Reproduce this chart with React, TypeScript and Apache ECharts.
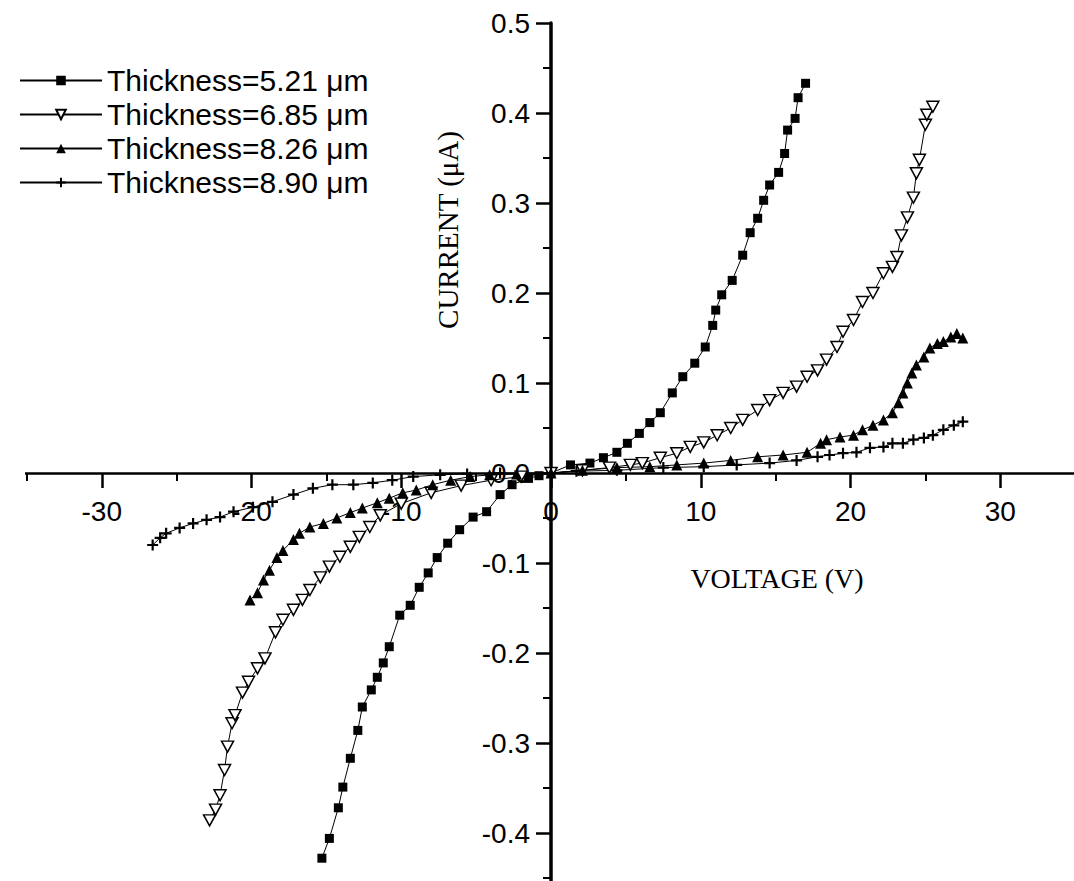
import React, { useEffect, useRef } from 'react';
import * as echarts from 'echarts';

const W = 1074;
const H = 881;

// Thickness = 5.21 µm (filled squares)
const voltA = [-15.3, -14.8, -14.2, -13.9, -13.4, -12.9, -12.6, -12.0, -11.6, -11.2, -10.8, -10.1, -9.4, -8.8, -8.2, -7.6, -6.9, -6.1, -5.2, -4.3, -3.4, -2.6, -1.5, -0.8, 0, 1.3, 2.6, 3.5, 4.4, 5.1, 5.9, 6.6, 7.3, 8.1, 8.8, 9.6, 10.3, 10.8, 11.0, 11.4, 12.1, 12.8, 13.3, 13.8, 14.2, 14.6, 15.2, 15.6, 15.8, 16.3, 16.5, 17.0];
const currA = [-0.428, -0.406, -0.372, -0.349, -0.317, -0.286, -0.260, -0.241, -0.227, -0.211, -0.193, -0.158, -0.147, -0.127, -0.111, -0.094, -0.078, -0.063, -0.049, -0.043, -0.024, -0.013, -0.006, -0.003, 0, 0.009, 0.011, 0.017, 0.023, 0.033, 0.044, 0.056, 0.067, 0.089, 0.107, 0.122, 0.140, 0.164, 0.181, 0.198, 0.214, 0.242, 0.267, 0.283, 0.303, 0.320, 0.334, 0.355, 0.381, 0.394, 0.417, 0.433];

// Thickness = 6.85 µm (open down triangles)
const voltB = [-22.8, -22.4, -22.1, -21.8, -21.6, -21.3, -21.1, -20.6, -20.2, -19.6, -19.1, -18.4, -17.9, -17.2, -16.6, -16.1, -15.4, -14.8, -14.1, -13.4, -12.8, -12.1, -11.4, -10.0, -8.0, -6.0, -4.0, -2.0, 0, 2.1, 3.9, 5.3, 6.1, 7.3, 8.4, 9.3, 10.2, 11.1, 12.0, 12.8, 13.8, 14.6, 15.5, 16.4, 17.1, 17.8, 18.4, 19.1, 19.5, 20.2, 20.8, 21.5, 22.2, 22.8, 23.1, 23.4, 23.8, 24.2, 24.4, 24.6, 25.0, 25.1, 25.5];
const currB = [-0.386, -0.374, -0.358, -0.330, -0.304, -0.278, -0.269, -0.244, -0.232, -0.217, -0.206, -0.177, -0.163, -0.152, -0.141, -0.130, -0.116, -0.104, -0.093, -0.082, -0.071, -0.060, -0.047, -0.034, -0.022, -0.014, -0.008, -0.004, 0, 0.003, 0.006, 0.009, 0.011, 0.017, 0.022, 0.029, 0.034, 0.042, 0.050, 0.059, 0.070, 0.081, 0.089, 0.096, 0.107, 0.114, 0.126, 0.140, 0.157, 0.170, 0.190, 0.200, 0.222, 0.229, 0.240, 0.264, 0.284, 0.306, 0.333, 0.348, 0.387, 0.398, 0.407];

// Thickness = 8.26 µm (filled up triangles)
const voltC = [-20.1, -19.6, -19.2, -18.8, -18.3, -17.9, -17.2, -16.8, -16.1, -15.2, -14.3, -13.4, -12.6, -11.6, -10.8, -9.9, -9.0, -7.9, -6.7, -5.4, -4.1, -2.3, 0, 2.1, 4.4, 6.6, 8.4, 10.2, 12.0, 13.8, 15.5, 17.1, 18.0, 18.4, 19.3, 20.2, 20.8, 21.5, 22.2, 22.8, 23.2, 23.5, 23.8, 24.1, 24.4, 24.9, 25.3, 25.8, 26.2, 26.7, 27.1, 27.5];
const currC = [-0.141, -0.133, -0.119, -0.108, -0.094, -0.086, -0.074, -0.067, -0.060, -0.056, -0.050, -0.044, -0.039, -0.033, -0.028, -0.022, -0.019, -0.013, -0.008, -0.004, -0.002, -0.001, 0, 0.003, 0.006, 0.007, 0.009, 0.011, 0.014, 0.018, 0.020, 0.023, 0.033, 0.037, 0.040, 0.042, 0.048, 0.053, 0.059, 0.067, 0.078, 0.089, 0.100, 0.111, 0.120, 0.129, 0.139, 0.144, 0.146, 0.151, 0.155, 0.150];

// Thickness = 8.90 µm (plus)
const voltD = [-26.6, -26.1, -25.7, -24.8, -23.9, -23.0, -22.1, -21.2, -19.9, -18.6, -17.2, -15.9, -14.6, -13.2, -11.9, -10.6, -9.2, -7.4, -5.6, -3.4, 0, 1.7, 4.4, 7.5, 10.2, 12.4, 14.6, 16.4, 17.8, 18.6, 19.5, 20.4, 21.3, 22.2, 22.8, 23.5, 24.2, 24.9, 25.5, 26.2, 26.9, 27.5];
const currD = [-0.080, -0.072, -0.067, -0.061, -0.056, -0.052, -0.049, -0.043, -0.038, -0.032, -0.024, -0.017, -0.013, -0.013, -0.011, -0.008, -0.004, -0.002, -0.001, 0.0, 0, 0.002, 0.003, 0.006, 0.007, 0.009, 0.011, 0.014, 0.018, 0.020, 0.022, 0.023, 0.028, 0.029, 0.033, 0.033, 0.037, 0.039, 0.042, 0.048, 0.053, 0.057];

const seriesNames = ['Thickness=5.21 μm', 'Thickness=6.85 μm', 'Thickness=8.26 μm', 'Thickness=8.90 μm'];
const xAxisName = 'VOLTAGE (V)';
const yAxisName = 'CURRENT (μA)';

const SANS = "'Liberation Sans', Arial, sans-serif";
const SERIF = "'Liberation Serif', 'Times New Roman', serif";

const pairs = (xs: number[], ys: number[]) => xs.map((x, i) => [x, ys[i]]);

// grid geometry (pixels)
const GRID_LEFT = -48;
const GRID_RIGHT = -76;
const GRID_TOP = 23;
const GRID_BOTTOM = -42;

export default function App() {
  const ref = useRef<HTMLDivElement>(null);
  useEffect(() => {
    const chart = echarts.init(ref.current!, null, { renderer: 'svg' });
    const lineStyle = { color: '#000', width: 1 };
    const gridW = W - GRID_LEFT - GRID_RIGHT;
    const gridH = H - GRID_TOP - GRID_BOTTOM;
    // axis lines sit at the zero of the other axis (middle of the symmetric ranges)
    const xOffset = -(gridH / 2);
    const yOffset = -(gridW / 2);
    const option: any = {
      animation: false,
      backgroundColor: '#fff',
      grid: {
        left: GRID_LEFT, right: GRID_RIGHT, top: GRID_TOP, bottom: GRID_BOTTOM,
        containLabel: false, outerBoundsMode: 'none',
      },
      legend: {
        orient: 'vertical',
        left: 14,
        top: 60,
        itemWidth: 82,
        itemHeight: 12,
        itemGap: 3,
        data: seriesNames,
        textStyle: { fontSize: 30, fontFamily: SANS, color: '#000', lineHeight: 31 },
      },
      xAxis: {
        type: 'value',
        min: -40,
        max: 40,
        interval: 10,
        position: 'bottom',
        offset: xOffset,
        splitLine: { show: false },
        axisLine: { onZero: false, lineStyle: { color: '#000', width: 2.5 } },
        axisTick: { length: 15, lineStyle: { color: '#000', width: 2.5 } },
        minorTick: { show: true, splitNumber: 2, length: 8, lineStyle: { color: '#000', width: 2 } },
        axisLabel: {
          margin: 24, fontSize: 28, fontFamily: SANS, color: '#000',
          formatter: (v: number) => (Math.abs(v) > 35 ? '' : String(v)),
        },
      },
      yAxis: {
        type: 'value',
        min: -0.5,
        max: 0.5,
        interval: 0.1,
        position: 'left',
        offset: yOffset,
        splitLine: { show: false },
        axisLine: { onZero: false, lineStyle: { color: '#000', width: 3.5 } },
        axisTick: { length: 15, lineStyle: { color: '#000', width: 2.5 } },
        minorTick: { show: true, splitNumber: 2, length: 8, lineStyle: { color: '#000', width: 2 } },
        axisLabel: {
          margin: 21,
          fontSize: 28,
          fontFamily: SANS,
          color: '#000',
          formatter: (v: number) => (v < -0.45 ? '' : Math.abs(v) < 1e-9 ? '0.0' : v.toFixed(1)),
        },
      },
      graphic: [
        { type: 'rect', shape: { x: 0, y: 450, width: 25, height: 40 }, style: { fill: '#fff' }, z: 100 },
        {
          type: 'text', x: 777, y: 578, z: 100,
          style: { text: xAxisName, font: `28px ${SERIF}`, fill: '#000', align: 'center', verticalAlign: 'middle' },
        },
        {
          type: 'text', x: 448, y: 230, rotation: Math.PI / 2, z: 100,
          style: { text: yAxisName, font: `29px ${SERIF}`, fill: '#000', align: 'center', verticalAlign: 'middle' },
        },
      ],
      series: [
        {
          name: seriesNames[0], type: 'line', data: pairs(voltA, currA),
          symbol: 'rect', symbolSize: 9, lineStyle, itemStyle: { color: '#000' },
        },
        {
          name: seriesNames[1], type: 'line', data: pairs(voltB, currB),
          symbol: 'path://M0,0L10,0L5,9Z', symbolSize: [12, 11], lineStyle,
          itemStyle: { color: '#fff', borderColor: '#000', borderWidth: 1.5 },
        },
        {
          name: seriesNames[2], type: 'line', data: pairs(voltC, currC),
          symbol: 'triangle', symbolSize: 11, lineStyle, itemStyle: { color: '#000' },
        },
        {
          name: seriesNames[3], type: 'line', data: pairs(voltD, currD),
          symbol: 'path://M4,0H6V4H10V6H6V10H4V6H0V4H4Z', symbolSize: 11, lineStyle,
          itemStyle: { color: '#000' },
        },
      ],
    };
    chart.setOption(option);
    return () => chart.dispose();
  }, []);
  return <div ref={ref} style={{ position: 'absolute', left: 0, top: 0, width: W, height: H, background: '#fff' }} />;
}
